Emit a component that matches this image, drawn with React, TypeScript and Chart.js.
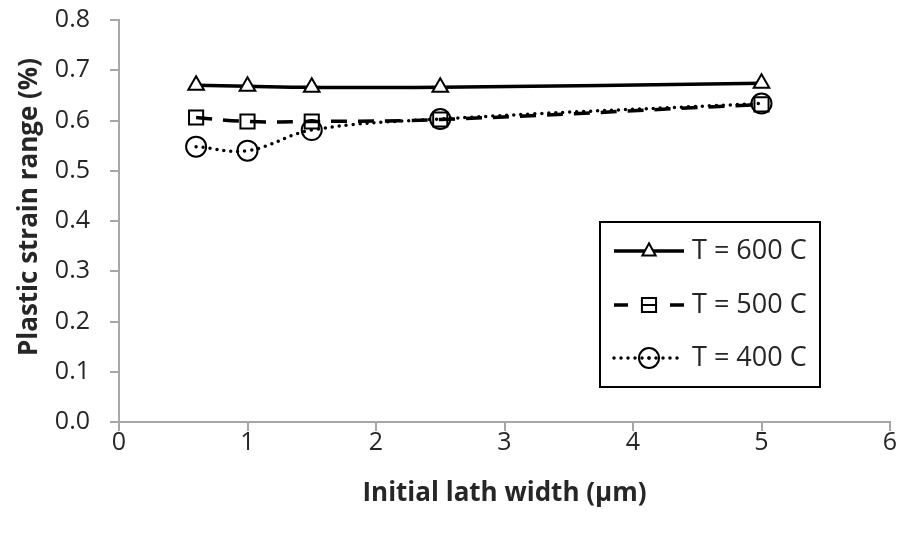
import React, { useEffect, useRef } from "react";
import { Chart, registerables } from "chart.js";

Chart.register(...registerables);

const xValues = [0.6, 1.0, 1.5, 2.5, 5.0];
const t600 = [0.670, 0.668, 0.666, 0.666, 0.674];
const t500 = [0.606, 0.598, 0.598, 0.602, 0.632];
const t400 = [0.548, 0.540, 0.581, 0.603, 0.634];
const seriesLabels = ["T = 600 C", "T = 500 C", "T = 400 C"];
const xTitle = "Initial lath width (\u00b5m)";
const yTitle = "Plastic strain range (%)";

const FONT = "'Open Sans', 'DejaVu Sans', sans-serif";
const TEXT = "#262626";
const AXIS = "#a6a6a6";

type Style = {
  dash: number[];
  cap: CanvasLineCap;
  width: number;
  point: string;
  radius: number;
  fill: string;
};

const styles: Style[] = [
  { dash: [], cap: "butt", width: 3.5, point: "triangle", radius: 9, fill: "#ffffff" },
  { dash: [16, 11], cap: "butt", width: 3.5, point: "rect", radius: 10, fill: "rgba(0,0,0,0)" },
  { dash: [0, 7], cap: "round", width: 3.5, point: "circle", radius: 10, fill: "rgba(0,0,0,0)" },
];

const yTitlePlugin = {
  id: "yTitle",
  afterDraw(chart: any) {
    const ctx = chart.ctx as CanvasRenderingContext2D;
    ctx.save();
    ctx.translate(30, 207);
    ctx.rotate(-Math.PI / 2);
    ctx.fillStyle = TEXT;
    ctx.font = `bold 26px ${FONT}`;
    ctx.textAlign = "center";
    ctx.textBaseline = "middle";
    ctx.fillText(yTitle, 0, 0);
    ctx.restore();
  },
};

const legendPlugin = {
  id: "boxLegend",
  afterDraw(chart: any) {
    const ctx = chart.ctx as CanvasRenderingContext2D;
    ctx.save();
    ctx.strokeStyle = "#000";
    ctx.lineWidth = 2;
    ctx.strokeRect(600, 222, 220, 165);
    const rows = [251, 305, 358];
    seriesLabels.forEach((lab, i) => {
      const st = styles[i];
      const y = rows[i];
      ctx.save();
      ctx.strokeStyle = "#000";
      ctx.lineWidth = st.width;
      ctx.lineCap = st.cap;
      ctx.setLineDash(st.dash);
      ctx.beginPath();
      if (i === 1) {
        ctx.setLineDash([]);
        ctx.moveTo(614, y);
        ctx.lineTo(628, y);
        ctx.moveTo(670, y);
        ctx.lineTo(684, y);
      } else {
        ctx.moveTo(614, y);
        ctx.lineTo(684, y);
      }
      ctx.stroke();
      ctx.restore();
      if (i === 1) {
        ctx.save();
        ctx.strokeStyle = "#000";
        ctx.lineWidth = 2;
        ctx.beginPath();
        ctx.moveTo(642, y);
        ctx.lineTo(656, y);
        ctx.stroke();
        ctx.restore();
      }
      ctx.save();
      ctx.setLineDash([]);
      ctx.lineWidth = 2;
      ctx.strokeStyle = "#000";
      ctx.fillStyle = st.fill;
      const r = st.radius;
      ctx.beginPath();
      if (st.point === "triangle") {
        const rr = r * 0.85;
        ctx.moveTo(649, y - rr);
        ctx.lineTo(649 + rr * 0.866, y + rr * 0.6);
        ctx.lineTo(649 - rr * 0.866, y + rr * 0.6);
        ctx.closePath();
        ctx.fill();
        ctx.stroke();
      } else if (st.point === "rect") {
        const s = (r * Math.SQRT2) / 2;
        ctx.rect(649 - s, y - s, 2 * s, 2 * s);
        ctx.stroke();
      } else {
        ctx.arc(649, y, r, 0, Math.PI * 2);
        ctx.stroke();
        ctx.beginPath();
        ctx.fillStyle = "#000";
        ctx.arc(649, y, 1.7, 0, Math.PI * 2);
        ctx.fill();
      }
      ctx.restore();
      ctx.fillStyle = TEXT;
      ctx.font = `27px ${FONT}`;
      ctx.textBaseline = "middle";
      ctx.textAlign = "left";
      ctx.fillText(lab, 692, y);
    });
    ctx.restore();
  },
};

export default function App() {
  const ref = useRef<HTMLCanvasElement | null>(null);
  useEffect(() => {
    if (!ref.current) return;
    const datasets = [t600, t500, t400].map((vals, i) => {
      const st = styles[i];
      return {
        label: seriesLabels[i],
        data: xValues.map((x, j) => ({ x, y: vals[j] })),
        borderColor: "#000",
        borderWidth: st.width,
        borderDash: st.dash,
        borderCapStyle: st.cap,
        tension: 0.4,
        pointStyle: st.point,
        pointRadius: st.radius,
        pointBorderWidth: 2,
        pointBorderColor: "#000",
        pointBackgroundColor: st.fill,
        fill: false,
      };
    });
    const chart = new Chart(ref.current, {
      type: "line",
      data: { datasets } as any,
      plugins: [legendPlugin, yTitlePlugin],
      options: {
        responsive: false,
        animation: false,
        layout: { padding: { left: 0, right: 12, top: 20, bottom: 0 } },
        plugins: { legend: { display: false }, tooltip: { enabled: false } },
        scales: {
          x: {
            type: "linear",
            min: 0,
            max: 6,
            afterFit: (s: any) => {
              s.height = 111;
            },
            ticks: { stepSize: 1, color: TEXT, font: { family: FONT, size: 25 }, padding: -3 },
            grid: { drawOnChartArea: false, drawTicks: true, tickLength: 9, color: AXIS, lineWidth: 2 },
            border: { display: true, color: AXIS, width: 2 },
            title: {
              display: true,
              text: xTitle,
              color: TEXT,
              font: { family: FONT, size: 26, weight: "bold" },
              padding: { top: 24, bottom: 24 },
            },
          },
          y: {
            min: 0,
            max: 0.8,
            afterFit: (s: any) => {
              s.width = 119;
              s.paddingTop = 0;
              s.paddingBottom = 0;
            },
            ticks: {
              stepSize: 0.1,
              color: TEXT,
              font: { family: FONT, size: 25 },
              padding: 20,
              callback: (v: any) => Number(v).toFixed(1),
            },
            grid: { drawOnChartArea: false, drawTicks: true, tickLength: 9, color: AXIS, lineWidth: 2 },
            border: { display: true, color: AXIS, width: 2 },
            title: { display: false, text: yTitle },
          },
        },
      } as any,
    });
    return () => chart.destroy();
  }, []);
  return (
    <div style={{ position: "fixed", left: 0, top: 0, width: 902, height: 533, background: "#fff" }}>
      <canvas ref={ref} width={902} height={533} style={{ display: "block" }} />
    </div>
  );
}
